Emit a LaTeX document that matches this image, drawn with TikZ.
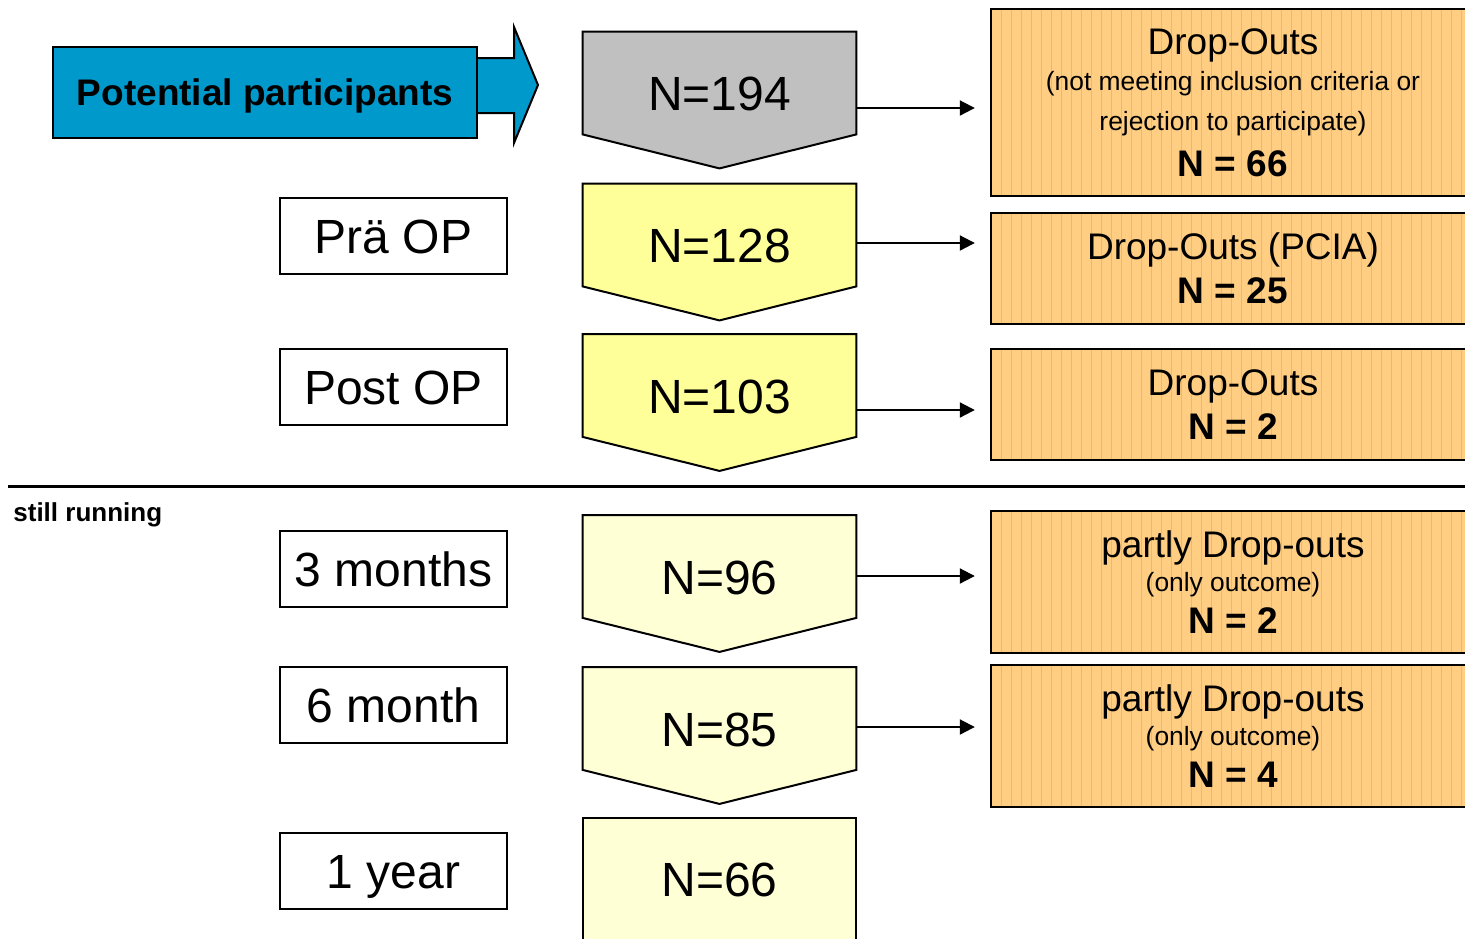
\documentclass[tikz,border=0pt]{standalone}
\usepackage{fontspec}
\setmainfont{Liberation Sans}
\usetikzlibrary{arrows.meta,backgrounds}
\definecolor{ppblue}{RGB}{0,153,204}
\definecolor{chevgray}{RGB}{192,192,192}
\definecolor{chevyellow}{RGB}{255,255,153}
\definecolor{chevpale}{RGB}{255,255,214}
\definecolor{dropfill}{RGB}{255,206,130}
\definecolor{dropline}{RGB}{255,180,80}
\newcommand{\smalltxt}{\fontsize{13.2}{16}\selectfont}
\newcommand{\chevron}[2]{%
  \begin{pgfonlayer}{background}
    \draw[line width=1pt, fill=#2] (#1.north west) -- (#1.north east) -- (#1.south east) -- ([yshift=-17pt]#1.south) -- (#1.south west) -- cycle;
  \end{pgfonlayer}}

\begin{document}
\begin{tikzpicture}[x = 0.5pt, y = -0.5pt,
    flow/.style={line width=1pt, -{Triangle[length=7.5pt, width=7.5pt]}, shorten >=7.5pt},
    chev/.style={minimum width=136.5pt, minimum height=51pt, inner sep=0pt, text height=27.7pt, text depth=0pt, font=\fontsize{24}{28}\selectfont},
    stage/.style={draw, line width=1pt, minimum width=113.5pt, minimum height=38pt, inner sep=0pt, text height=17.2pt, text depth=0pt, font=\fontsize{24}{28}\selectfont},
    dropbox/.style={draw, line width=1.2pt, fill=dropfill, minimum width=242pt, inner sep=0pt, align=center, font=\fontsize{18.5}{20}\selectfont,
      path picture={\foreach \k in {1,...,48} \draw[dropline, line width=0.3pt] ([xshift=\k*5pt]path picture bounding box.south west) -- ([xshift=\k*5pt]path picture bounding box.north west);}}]
        \useasboundingbox (0,0) rectangle (1465,938);
        \draw[line width=1pt, fill=ppblue] (300,58) -- (514,58) -- (514,27) -- (538,85) -- (514,143) -- (514,113) -- (300,113) -- cycle;
        \node[draw, line width=1pt, fill=ppblue, minimum width=212pt, minimum height=45.5pt, text height=13.3pt, text depth=0pt, font=\fontsize{18.5}{22}\selectfont\bfseries] (pp) at (265,92.5) {Potential participants};
        \node[stage] (pre) at (393.5,236) {Prä OP};
        \node[stage] (post) at (393.5,387) {Post OP};
        \node[stage] (m3) at (393.5,569) {3 months};
        \node[stage] (m6) at (393.5,705) {6 month};
        \node[stage] (y1) at (393.5,871) {1 year};
        \node[chev] (n194) at (719.5,83) {N=194};
        \node[chev] (n128) at (719.5,235) {N=128};
        \node[chev] (n103) at (719.5,385.5) {N=103};
        \node[chev] (n96) at (719.5,566.5) {N=96};
        \node[chev] (n85) at (719.5,718.5) {N=85};
        \node[chev] (n66) at (719.5,869) {N=66};
        \chevron{n194}{chevgray}
        \chevron{n128}{chevyellow}
        \chevron{n103}{chevyellow}
        \chevron{n96}{chevpale}
        \chevron{n85}{chevpale}
        \begin{pgfonlayer}{background}
            \draw[line width=1pt, fill=chevpale] (n66.north west) rectangle ([yshift=-20pt]n66.south east);
        \end{pgfonlayer}
        \node[dropbox, minimum height=93.5pt] (out1) at (1233,102.5) {Drop-Outs\\[-2pt]{\smalltxt (not meeting inclusion criteria or}\\{\smalltxt rejection to participate)}\\[3pt]\textbf{N = 66}};
        \node[dropbox, minimum height=55.5pt] (out2) at (1233,268.5) {Drop-Outs (PCIA)\\[2pt]\textbf{N = 25}};
        \node[dropbox, minimum height=55.5pt] (out3) at (1233,404.5) {Drop-Outs\\[2pt]\textbf{N = 2}};
        \node[dropbox, minimum height=71pt] (out4) at (1233,582) {partly Drop-outs\\[-3pt]{\smalltxt (only outcome)}\\[1pt]\textbf{N = 2}};
        \node[dropbox, minimum height=71pt] (out5) at (1233,736) {partly Drop-outs\\[-3pt]{\smalltxt (only outcome)}\\[1pt]\textbf{N = 4}};
        \draw[flow] ([yshift=-12.5pt]n194.east) -- ([yshift=-12.5pt]n194.east -| out1.west);
        \draw[flow] ([yshift=-4pt]n128.east) -- ([yshift=-4pt]n128.east -| out2.west);
        \draw[flow] ([yshift=-12.25pt]n103.east) -- ([yshift=-12.25pt]n103.east -| out3.west);
        \draw[flow] ([yshift=-4.75pt]n96.east) -- ([yshift=-4.75pt]n96.east -| out4.west);
        \draw[flow] ([yshift=-4.25pt]n85.east) -- ([yshift=-4.25pt]n85.east -| out5.west);
        \draw[line width=1.5pt] (8,486) -- (1470,486);
        \node[anchor=base west, inner sep=0pt, font=\fontsize{13}{16}\selectfont\bfseries] (run) at (13,521) {still running};
    \end{tikzpicture}
\end{document}
